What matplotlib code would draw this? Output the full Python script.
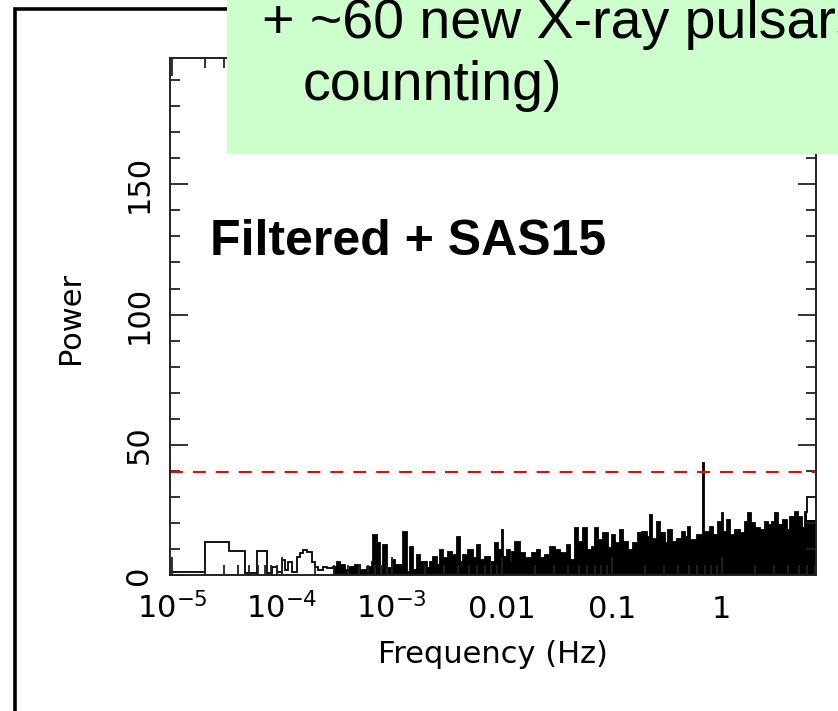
import numpy as np
import matplotlib
matplotlib.use("Agg")
import matplotlib.pyplot as plt
from matplotlib.patches import Rectangle
from matplotlib.ticker import FixedLocator, LogLocator, MultipleLocator, NullFormatter

# power spectrum: log10 of the bin edges (Hz) and power per bin
log_freq_edges = [
    -5.050, -4.700, -4.482, -4.336, -4.227, -4.136, -4.091, -4.045, -4.000, -3.973,
    -3.945, -3.909, -3.864, -3.836, -3.809, -3.773, -3.727, -3.700, -3.673, -3.627,
    -3.591, -3.536, -3.500, -3.473, -3.427, -3.382, -3.336, -3.291, -3.227, -3.182,
    -3.173, -3.136, -3.109, -3.082, -3.045, -3.000, -2.973, -2.900, -2.864, -2.836,
    -2.809, -2.773, -2.745, -2.682, -2.655, -2.627, -2.591, -2.564, -2.536, -2.491,
    -2.455, -2.409, -2.382, -2.355, -2.309, -2.264, -2.227, -2.200, -2.155, -2.109,
    -2.064, -2.036, -2.000, -1.991, -1.955, -1.927, -1.909, -1.882, -1.836, -1.791,
    -1.727, -1.682, -1.655, -1.609, -1.564, -1.518, -1.473, -1.409, -1.382, -1.336,
    -1.309, -1.264, -1.227, -1.182, -1.155, -1.127, -1.082, -1.036, -1.000, -0.973,
    -0.927, -0.900, -0.855, -0.809, -0.764, -0.727, -0.682, -0.655, -0.636, -0.591,
    -0.564, -0.518, -0.491, -0.455, -0.409, -0.364, -0.336, -0.309, -0.291, -0.227,
    -0.173, -0.164, -0.155, -0.109, -0.082, -0.036, 0.000, 0.009, 0.045, 0.073,
    0.118, 0.164, 0.209, 0.236, 0.264, 0.300, 0.345, 0.391, 0.418, 0.455,
    0.482, 0.509, 0.555, 0.591, 0.618, 0.664, 0.691, 0.727, 0.755, 0.773,
    0.900,
]
power = [
    1.3, 12.5, 9.2, 0.8, 9.2, 0.6, 3.0, 1.0, 5.8,
    2.0, 5.0, 1.0, 7.0, 8.5, 9.6, 8.7, 5.1, 3.0, 2.0,
    3.0, 2.5, 3.2, 5.0, 3.8, 2.0, 3.0, 3.8, 2.0, 3.2, 5.0,
    15.3, 12.1, 2.0, 11.5, 2.5, 5.8, 3.8, 16.6, 1.3, 10.6,
    2.0, 7.7, 5.0, 2.5, 5.0, 7.0, 3.8, 9.6, 6.4, 9.0,
    7.7, 14.7, 5.0, 7.7, 9.6, 6.4, 11.5, 5.8, 7.0, 5.0,
    12.1, 9.6, 17.3, 7.0, 9.6, 4.5, 9.0, 12.8, 8.3, 6.4,
    8.3, 9.6, 6.4, 7.7, 10.9, 9.6, 8.3, 11.5, 5.8, 17.9,
    12.8, 17.9, 9.6, 10.9, 17.9, 13.4, 16.0, 10.2, 15.3, 12.1,
    17.3, 12.8, 9.6, 12.1, 16.0, 16.6, 14.7, 23.0, 14.0, 20.5,
    16.0, 12.1, 17.3, 12.8, 14.0, 16.6, 14.7, 18.5, 13.4, 15.3,
    43.1, 16.0, 16.6, 18.5, 15.3, 20.5, 23.7, 16.6, 21.1, 15.3,
    17.3, 16.0, 20.5, 23.7, 19.8, 17.9, 17.3, 20.5, 19.2, 20.5,
    23.7, 19.2, 21.1, 17.3, 22.4, 24.3, 22.4, 17.9, 24.3, 29.8,
]
last_bin_fill = 21.0     # widest last bin is only solid up to here
fill_from = -3.54        # below this the histogram shows as outline only
threshold = 39.6

x_ticks = [1e-5, 1e-4, 1e-3, 0.01, 0.1, 1]
x_tick_labels = ['$10^{-5}$', '$10^{-4}$', '$10^{-3}$', '0.01', '0.1', '1']
y_ticks = [0, 50, 100, 150]

freq_edges = 10 ** np.array(log_freq_edges)
power = np.array(power)
fill_power = power.copy()
fill_power[-1] = last_bin_fill
first = int(np.searchsorted(log_freq_edges, fill_from))

fig = plt.figure(figsize=(8.38, 7.11), dpi=100)
ax = fig.add_axes([0.2029, 0.1913, 0.7709, 0.7271])

ax.stairs(fill_power[first:], freq_edges[first:], fill=True, color='black', lw=0)
ax.stairs(power, freq_edges, color='black', lw=1.3)
ax.axhline(threshold, color='red', lw=1.5, dashes=(6.2, 4.8))

ax.set_xscale('log')
ax.set_xlim(9.6e-6, 7.2)
ax.set_ylim(0, 198.5)

ax.xaxis.set_major_locator(FixedLocator(x_ticks))
ax.xaxis.set_minor_locator(LogLocator(base=10, subs=np.arange(2, 10), numticks=100))
ax.xaxis.set_minor_formatter(NullFormatter())
ax.set_xticks(x_ticks, x_tick_labels, va='baseline')
ax.set_yticks(y_ticks)
ax.yaxis.set_minor_locator(MultipleLocator(10))

ax.tick_params(which='both', direction='in', top=True, right=True, width=1.3, color='#222222')
ax.tick_params(which='major', length=13)
ax.tick_params(which='minor', length=7)
ax.tick_params(axis='x', labelsize=22, pad=31)
ax.tick_params(axis='y', labelsize=22, pad=12, labelrotation=90)
for lab in ax.get_yticklabels():
    lab.set_va('center')
for s in ax.spines.values():
    s.set_linewidth(1.4)
    s.set_color('#222222')

ax.set_xlabel('Frequency (Hz)', fontsize=22)
ax.set_ylabel('Power', fontsize=22)
ax.xaxis.set_label_coords(0.5, -0.126)
ax.yaxis.set_label_coords(-0.132, 0.497)

# slide frame, label and the green note box
fig.add_artist(Rectangle((15 / 838, -0.1), 1.2, 1 - 9 / 711 + 0.1, transform=fig.transFigure,
                         fill=False, edgecolor='black', lw=2.6, zorder=1))
fig.text(210 / 838, 1 - 255 / 711, 'Filtered + SAS15', family='Liberation Sans',
         fontsize=36, fontweight='bold', va='baseline', ha='left', zorder=6)
fig.add_artist(Rectangle((227 / 838, 1 - 154 / 711), 1, 1, transform=fig.transFigure,
                         facecolor='#ccffcc', edgecolor='none', zorder=5))
fig.text(262 / 838, 1 - 38 / 711, '+ ~60 new X-ray pulsars', family='Liberation Sans',
         fontsize=40, va='baseline', ha='left', zorder=6)
fig.text(303 / 838, 1 - 100 / 711, 'counnting)', family='Liberation Sans',
         fontsize=40, va='baseline', ha='left', zorder=6)

fig.savefig('out.png', dpi=100)
